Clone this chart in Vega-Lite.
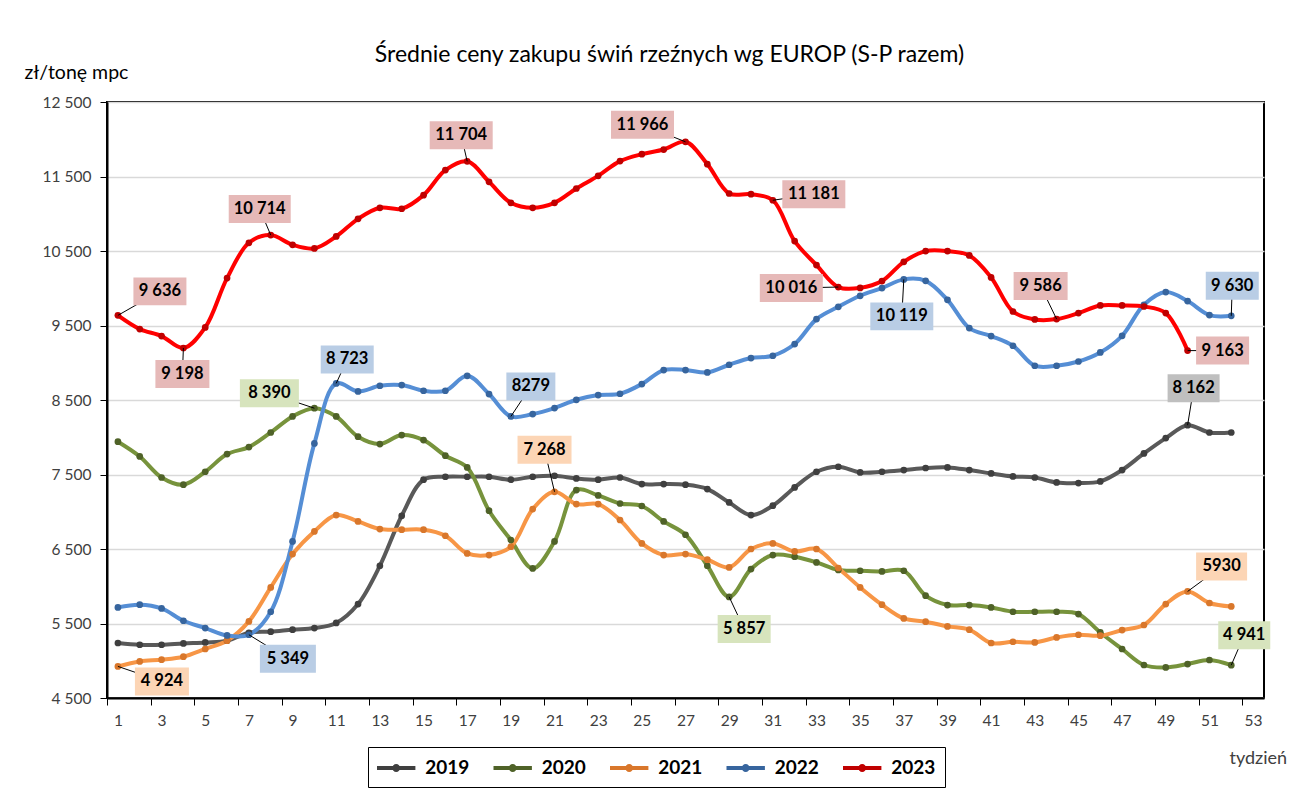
{
  "$schema": "https://vega.github.io/schema/vega-lite/v6.json",
  "width": 1157,
  "height": 596,
  "autosize": {"type": "none"},
  "padding": {"left": 107, "top": 102, "right": 32, "bottom": 101},
  "background": "white",
  "config": {
    "font": "Lato",
    "view": {"stroke": "#000", "strokeWidth": 2},
    "axisY": {"titleFontSize": 19.5, "titleFont": "Lato", "titleFontWeight": "normal"},
    "axisX": {"titleFontSize": 18, "titleFont": "Lato", "titleFontWeight": "normal"}
  },
  "title": {
    "text": "Średnie ceny zakupu świń rzeźnych wg EUROP (S-P razem)",
    "fontSize": 23,
    "fontWeight": "normal",
    "color": "#000",
    "font": "Lato",
    "frame": "group",
    "anchor": "middle",
    "dx": -16,
    "dy": 39,
    "offset": 34
  },
  "datasets": {
    "prices": [
      {"year":"2019","week":1,"value":5238},{"year":"2019","week":2,"value":5215},{"year":"2019","week":3,"value":5215},{"year":"2019","week":4,"value":5233},{"year":"2019","week":5,"value":5246},{"year":"2019","week":6,"value":5269},{"year":"2019","week":7,"value":5376},{"year":"2019","week":8,"value":5390},{"year":"2019","week":9,"value":5417},{"year":"2019","week":10,"value":5439},
      {"year":"2019","week":11,"value":5507},{"year":"2019","week":12,"value":5761},{"year":"2019","week":13,"value":6275},{"year":"2019","week":14,"value":6946},{"year":"2019","week":15,"value":7430},{"year":"2019","week":16,"value":7470},{"year":"2019","week":17,"value":7470},{"year":"2019","week":18,"value":7470},{"year":"2019","week":19,"value":7430},{"year":"2019","week":20,"value":7470},
      {"year":"2019","week":21,"value":7483},{"year":"2019","week":22,"value":7447},{"year":"2019","week":23,"value":7430},{"year":"2019","week":24,"value":7460},{"year":"2019","week":25,"value":7372},{"year":"2019","week":26,"value":7372},{"year":"2019","week":27,"value":7363},{"year":"2019","week":28,"value":7305},{"year":"2019","week":29,"value":7125},{"year":"2019","week":30,"value":6956},
      {"year":"2019","week":31,"value":7081},{"year":"2019","week":32,"value":7326},{"year":"2019","week":33,"value":7537},{"year":"2019","week":34,"value":7604},{"year":"2019","week":35,"value":7528},{"year":"2019","week":36,"value":7537},{"year":"2019","week":37,"value":7560},{"year":"2019","week":38,"value":7587},{"year":"2019","week":39,"value":7595},{"year":"2019","week":40,"value":7560},
      {"year":"2019","week":41,"value":7514},{"year":"2019","week":42,"value":7474},{"year":"2019","week":43,"value":7460},{"year":"2019","week":44,"value":7393},{"year":"2019","week":45,"value":7385},{"year":"2019","week":46,"value":7407},{"year":"2019","week":47,"value":7560},{"year":"2019","week":48,"value":7783},{"year":"2019","week":49,"value":7989},{"year":"2019","week":50,"value":8162},
      {"year":"2019","week":51,"value":8064},{"year":"2019","week":52,"value":8064},

      {"year":"2020","week":1,"value":7940},{"year":"2020","week":2,"value":7742},{"year":"2020","week":3,"value":7460},{"year":"2020","week":4,"value":7363},{"year":"2020","week":5,"value":7537},{"year":"2020","week":6,"value":7774},{"year":"2020","week":7,"value":7868},{"year":"2020","week":8,"value":8064},{"year":"2020","week":9,"value":8279},{"year":"2020","week":10,"value":8390},
      {"year":"2020","week":11,"value":8279},{"year":"2020","week":12,"value":8007},{"year":"2020","week":13,"value":7909},{"year":"2020","week":14,"value":8029},{"year":"2020","week":15,"value":7962},{"year":"2020","week":16,"value":7752},{"year":"2020","week":17,"value":7595},{"year":"2020","week":18,"value":7014},{"year":"2020","week":19,"value":6620},{"year":"2020","week":20,"value":6239},
      {"year":"2020","week":21,"value":6602},{"year":"2020","week":22,"value":7291},{"year":"2020","week":23,"value":7219},{"year":"2020","week":24,"value":7111},{"year":"2020","week":25,"value":7077},{"year":"2020","week":26,"value":6870},{"year":"2020","week":27,"value":6691},{"year":"2020","week":28,"value":6275},{"year":"2020","week":29,"value":5857},{"year":"2020","week":30,"value":6231},
      {"year":"2020","week":31,"value":6419},{"year":"2020","week":32,"value":6396},{"year":"2020","week":33,"value":6320},{"year":"2020","week":34,"value":6218},{"year":"2020","week":35,"value":6208},{"year":"2020","week":36,"value":6199},{"year":"2020","week":37,"value":6208},{"year":"2020","week":38,"value":5873},{"year":"2020","week":39,"value":5748},{"year":"2020","week":40,"value":5748},
      {"year":"2020","week":41,"value":5716},{"year":"2020","week":42,"value":5658},{"year":"2020","week":43,"value":5658},{"year":"2020","week":44,"value":5658},{"year":"2020","week":45,"value":5627},{"year":"2020","week":46,"value":5380},{"year":"2020","week":47,"value":5158},{"year":"2020","week":48,"value":4943},{"year":"2020","week":49,"value":4911},{"year":"2020","week":50,"value":4956},
      {"year":"2020","week":51,"value":5010},{"year":"2020","week":52,"value":4941},

      {"year":"2021","week":1,"value":4924},{"year":"2021","week":2,"value":4991},{"year":"2021","week":3,"value":5014},{"year":"2021","week":4,"value":5054},{"year":"2021","week":5,"value":5158},{"year":"2021","week":6,"value":5269},{"year":"2021","week":7,"value":5528},{"year":"2021","week":8,"value":5984},{"year":"2021","week":9,"value":6432},{"year":"2021","week":10,"value":6736},
      {"year":"2021","week":11,"value":6956},{"year":"2021","week":12,"value":6870},{"year":"2021","week":13,"value":6768},{"year":"2021","week":14,"value":6759},{"year":"2021","week":15,"value":6759},{"year":"2021","week":16,"value":6678},{"year":"2021","week":17,"value":6440},{"year":"2021","week":18,"value":6419},{"year":"2021","week":19,"value":6530},{"year":"2021","week":20,"value":7036},
      {"year":"2021","week":21,"value":7268},{"year":"2021","week":22,"value":7103},{"year":"2021","week":23,"value":7103},{"year":"2021","week":24,"value":6889},{"year":"2021","week":25,"value":6575},{"year":"2021","week":26,"value":6419},{"year":"2021","week":27,"value":6432},{"year":"2021","week":28,"value":6356},{"year":"2021","week":29,"value":6253},{"year":"2021","week":30,"value":6500},
      {"year":"2021","week":31,"value":6575},{"year":"2021","week":32,"value":6467},{"year":"2021","week":33,"value":6500},{"year":"2021","week":34,"value":6245},{"year":"2021","week":35,"value":5984},{"year":"2021","week":36,"value":5752},{"year":"2021","week":37,"value":5568},{"year":"2021","week":38,"value":5524},{"year":"2021","week":39,"value":5461},{"year":"2021","week":40,"value":5417},
      {"year":"2021","week":41,"value":5238},{"year":"2021","week":42,"value":5255},{"year":"2021","week":43,"value":5246},{"year":"2021","week":44,"value":5313},{"year":"2021","week":45,"value":5349},{"year":"2021","week":46,"value":5336},{"year":"2021","week":47,"value":5412},{"year":"2021","week":48,"value":5480},{"year":"2021","week":49,"value":5761},{"year":"2021","week":50,"value":5930},
      {"year":"2021","week":51,"value":5775},{"year":"2021","week":52,"value":5729},

      {"year":"2022","week":1,"value":5716},{"year":"2022","week":2,"value":5752},{"year":"2022","week":3,"value":5702},{"year":"2022","week":4,"value":5537},{"year":"2022","week":5,"value":5439},{"year":"2022","week":6,"value":5340},{"year":"2022","week":7,"value":5349},{"year":"2022","week":8,"value":5658},{"year":"2022","week":9,"value":6602},{"year":"2022","week":10,"value":7917},
      {"year":"2022","week":11,"value":8723},{"year":"2022","week":12,"value":8615},{"year":"2022","week":13,"value":8691},{"year":"2022","week":14,"value":8700},{"year":"2022","week":15,"value":8624},{"year":"2022","week":16,"value":8624},{"year":"2022","week":17,"value":8825},{"year":"2022","week":18,"value":8580},{"year":"2022","week":19,"value":8279},{"year":"2022","week":20,"value":8311},
      {"year":"2022","week":21,"value":8392},{"year":"2022","week":22,"value":8503},{"year":"2022","week":23,"value":8566},{"year":"2022","week":24,"value":8584},{"year":"2022","week":25,"value":8714},{"year":"2022","week":26,"value":8902},{"year":"2022","week":27,"value":8902},{"year":"2022","week":28,"value":8870},{"year":"2022","week":29,"value":8973},{"year":"2022","week":30,"value":9063},
      {"year":"2022","week":31,"value":9094},{"year":"2022","week":32,"value":9251},{"year":"2022","week":33,"value":9586},{"year":"2022","week":34,"value":9751},{"year":"2022","week":35,"value":9899},{"year":"2022","week":36,"value":10002},{"year":"2022","week":37,"value":10119},{"year":"2022","week":38,"value":10100},{"year":"2022","week":39,"value":9845},{"year":"2022","week":40,"value":9465},
      {"year":"2022","week":41,"value":9358},{"year":"2022","week":42,"value":9228},{"year":"2022","week":43,"value":8960},{"year":"2022","week":44,"value":8960},{"year":"2022","week":45,"value":9017},{"year":"2022","week":46,"value":9138},{"year":"2022","week":47,"value":9362},{"year":"2022","week":48,"value":9778},{"year":"2022","week":49,"value":9949},{"year":"2022","week":50,"value":9828},
      {"year":"2022","week":51,"value":9640},{"year":"2022","week":52,"value":9630},

      {"year":"2023","week":1,"value":9636},{"year":"2023","week":2,"value":9452},{"year":"2023","week":3,"value":9358},{"year":"2023","week":4,"value":9198},{"year":"2023","week":5,"value":9474},{"year":"2023","week":6,"value":10136},{"year":"2023","week":7,"value":10610},{"year":"2023","week":8,"value":10714},{"year":"2023","week":9,"value":10583},{"year":"2023","week":10,"value":10534},
      {"year":"2023","week":11,"value":10695},{"year":"2023","week":12,"value":10932},{"year":"2023","week":13,"value":11080},{"year":"2023","week":14,"value":11067},{"year":"2023","week":15,"value":11250},{"year":"2023","week":16,"value":11586},{"year":"2023","week":17,"value":11704},{"year":"2023","week":18,"value":11429},{"year":"2023","week":19,"value":11147},{"year":"2023","week":20,"value":11080},
      {"year":"2023","week":21,"value":11147},{"year":"2023","week":22,"value":11339},{"year":"2023","week":23,"value":11509},{"year":"2023","week":24,"value":11707},{"year":"2023","week":25,"value":11800},{"year":"2023","week":26,"value":11862},{"year":"2023","week":27,"value":11966},{"year":"2023","week":28,"value":11666},{"year":"2023","week":29,"value":11272},{"year":"2023","week":30,"value":11263},
      {"year":"2023","week":31,"value":11181},{"year":"2023","week":32,"value":10633},{"year":"2023","week":33,"value":10311},{"year":"2023","week":34,"value":10016},{"year":"2023","week":35,"value":10005},{"year":"2023","week":36,"value":10096},{"year":"2023","week":37,"value":10355},{"year":"2023","week":38,"value":10499},{"year":"2023","week":39,"value":10499},{"year":"2023","week":40,"value":10440},
      {"year":"2023","week":41,"value":10145},{"year":"2023","week":42,"value":9688},{"year":"2023","week":43,"value":9581},{"year":"2023","week":44,"value":9586},{"year":"2023","week":45,"value":9667},{"year":"2023","week":46,"value":9769},{"year":"2023","week":47,"value":9769},{"year":"2023","week":48,"value":9755},{"year":"2023","week":49,"value":9667},{"year":"2023","week":50,"value":9163}
    ],
    "labels": [
      {"year":"2023","week":1,"value":9636,"text":"9 636"},
      {"year":"2023","week":4,"value":9198,"text":"9 198"},
      {"year":"2023","week":8,"value":10714,"text":"10 714"},
      {"year":"2023","week":17,"value":11704,"text":"11 704"},
      {"year":"2023","week":27,"value":11966,"text":"11 966"},
      {"year":"2023","week":31,"value":11181,"text":"11 181"},
      {"year":"2023","week":34,"value":10016,"text":"10 016"},
      {"year":"2023","week":44,"value":9586,"text":"9 586"},
      {"year":"2023","week":50,"value":9163,"text":"9 163"},
      {"year":"2022","week":52,"value":9630,"text":"9 630"},
      {"year":"2022","week":37,"value":10119,"text":"10 119"},
      {"year":"2022","week":19,"value":8279,"text":"8279"},
      {"year":"2022","week":11,"value":8723,"text":"8 723"},
      {"year":"2022","week":7,"value":5349,"text":"5 349"},
      {"year":"2020","week":10,"value":8390,"text":"8 390"},
      {"year":"2021","week":21,"value":7268,"text":"7 268"},
      {"year":"2020","week":29,"value":5857,"text":"5 857"},
      {"year":"2019","week":50,"value":8162,"text":"8 162"},
      {"year":"2021","week":50,"value":5930,"text":"5930"},
      {"year":"2020","week":52,"value":4941,"text":"4 941"},
      {"year":"2021","week":1,"value":4924,"text":"4 924"}
    ]
  },
  "encoding": {
    "x": {"field": "week", "type": "quantitative", "scale": {"domain": [0.5, 53.5], "nice": false, "zero": false}},
    "y": {"field": "value", "type": "quantitative", "scale": {"domain": [4500, 12500], "nice": false, "zero": false}}
  },
  "layer": [
    {
      "data": {"name": "prices"},
      "mark": {"type": "line", "interpolate": "catmull-rom", "strokeWidth": 4, "strokeCap": "round", "strokeJoin": "round"},
      "encoding": {
        "x": {"field": "week", "type": "quantitative",
          "axis": {
            "values": [0.5,1.5,2.5,3.5,4.5,5.5,6.5,7.5,8.5,9.5,10.5,11.5,12.5,13.5,14.5,15.5,16.5,17.5,18.5,19.5,20.5,21.5,22.5,23.5,24.5,25.5,26.5,27.5,28.5,29.5,30.5,31.5,32.5,33.5,34.5,35.5,36.5,37.5,38.5,39.5,40.5,41.5,42.5,43.5,44.5,45.5,46.5,47.5,48.5,49.5,50.5,51.5,52.5,53.5],
            "labelExpr": "(datum.value + 0.5) % 2 == 1 ? format(datum.value + 0.5, 'd') : ''",
            "labelOffset": 10.9,
            "labelOverlap": false,
            "labelBound": false,
            "labelFlush": false,
            "labelFont": "Lato",
            "labelFontSize": 15.5,
            "labelColor": "#404040",
            "labelPadding": 8,
            "grid": false,
            "tickColor": "#000",
            "tickSize": 7,
            "tickWidth": 1,
            "domainColor": "#000",
            "domainWidth": 2,
            "title": "tydzień",
            "titleFont": "Lato",
            "titleFontSize": 18,
            "titleFontWeight": "normal",
            "titleColor": "#404040",
            "titleAlign": "left",
            "titleBaseline": "middle",
            "titleAnchor": null,
            "titleX": 1122,
            "titleY": 60
          }
        },
        "y": {"field": "value", "type": "quantitative",
          "axis": {
            "values": [4500, 5500, 6500, 7500, 8500, 9500, 10500, 11500, 12500],
            "labelExpr": "replace(format(datum.value, ','), ',', ' ')",
            "labelFont": "Lato",
            "labelFontSize": 15.5,
            "labelColor": "#404040",
            "labelPadding": 9,
            "grid": true,
            "gridColor": "#D9D9D9",
            "gridWidth": 1.3,
            "tickColor": "#000",
            "tickSize": 7,
            "domainColor": "#000",
            "domainWidth": 2,
            "title": "zł/tonę mpc",
            "titleFont": "Lato",
            "titleFontSize": 19.5,
            "titleFontWeight": "normal",
            "titleColor": "#000",
            "titleAngle": 0,
            "titleAlign": "left",
            "titleBaseline": "middle",
            "titleAnchor": null,
            "titleX": -83,
            "titleY": -30
          }
        },
        "color": {
          "field": "year", "type": "nominal",
          "scale": {"domain": ["2019", "2020", "2021", "2022", "2023"], "range": ["#595959", "#77933C", "#F79646", "#558ED5", "#FF0000"]},
          "legend": {
            "orient": "none",
            "legendX": 261,
            "legendY": 645,
            "direction": "horizontal",
            "columns": 5,
            "title": null,
            "padding": 9,
            "strokeColor": "#000",
            "fillColor": "#fff",
            "symbolType": "M-1.6,-0.17L1.6,-0.17L1.6,0.17L-1.6,0.17Z M0.33,0A0.33,0.33,0,1,1,-0.33,0A0.33,0.33,0,1,1,0.33,0Z",
            "symbolSize": 576,
            "symbolOffset": 7.2,
            "symbolStrokeWidth": 0,
            "labelOffset": 17,
            "labelFont": "Lato",
            "labelFontSize": 19,
            "labelFontWeight": "bold",
            "labelColor": "#000",
            "columnPadding": 22.5,
            "encode": {"symbols": {"update": {"fill": {"scale": "color", "field": "value"}, "strokeWidth": {"value": 0}}}}
          }
        }
      }
    },
    {
      "data": {"name": "prices"},
      "mark": {"type": "point", "shape": "circle", "filled": true, "size": 45, "opacity": 1},
      "encoding": {
        "fill": {
          "field": "year", "type": "nominal", "legend": null,
          "scale": {"domain": ["2019", "2020", "2021", "2022", "2023"], "range": ["#3F3F3F", "#4F6228", "#D9772B", "#37659E", "#C00000"]}
        }
      }
    },
    {"data": {"name": "labels"}, "transform": [{"filter": "datum.text == '9 636'"}], "layer": [
      {"mark": {"type": "rule", "color": "#000", "strokeWidth": 1, "x2Offset": 42, "y2Offset": -24}, "encoding": {"x2": {"field": "week"}, "y2": {"field": "value"}}},
      {"mark": {"type": "point", "shape": "M-1,-0.528H1V0.528H-1Z", "size": 2809, "filled": true, "opacity": 1, "fill": "#E6B9B8", "xOffset": 42, "yOffset": -24}},
      {"mark": {"type": "text", "dx": 42, "dy": -24, "font": "Lato", "fontSize": 16.5, "fontWeight": "bold", "color": "#000"}, "encoding": {"text": {"field": "text"}}}
    ]},
    {"data": {"name": "labels"}, "transform": [{"filter": "datum.text == '9 198'"}], "layer": [
      {"mark": {"type": "rule", "color": "#000", "strokeWidth": 1, "x2Offset": -1, "y2Offset": 26}, "encoding": {"x2": {"field": "week"}, "y2": {"field": "value"}}},
      {"mark": {"type": "point", "shape": "M-1,-0.519H1V0.519H-1Z", "size": 2916, "filled": true, "opacity": 1, "fill": "#E6B9B8", "xOffset": -1, "yOffset": 26}},
      {"mark": {"type": "text", "dx": -1, "dy": 26, "font": "Lato", "fontSize": 16.5, "fontWeight": "bold", "color": "#000"}, "encoding": {"text": {"field": "text"}}}
    ]},
    {"data": {"name": "labels"}, "transform": [{"filter": "datum.text == '10 714'"}], "layer": [
      {"mark": {"type": "rule", "color": "#000", "strokeWidth": 1, "x2Offset": -11, "y2Offset": -26}, "encoding": {"x2": {"field": "week"}, "y2": {"field": "value"}}},
      {"mark": {"type": "point", "shape": "M-1,-0.452H1V0.452H-1Z", "size": 3844, "filled": true, "opacity": 1, "fill": "#E6B9B8", "xOffset": -11, "yOffset": -26}},
      {"mark": {"type": "text", "dx": -11, "dy": -26, "font": "Lato", "fontSize": 16.5, "fontWeight": "bold", "color": "#000"}, "encoding": {"text": {"field": "text"}}}
    ]},
    {"data": {"name": "labels"}, "transform": [{"filter": "datum.text == '11 704'"}], "layer": [
      {"mark": {"type": "rule", "color": "#000", "strokeWidth": 1, "x2Offset": -6, "y2Offset": -26}, "encoding": {"x2": {"field": "week"}, "y2": {"field": "value"}}},
      {"mark": {"type": "point", "shape": "M-1,-0.444H1V0.444H-1Z", "size": 3969, "filled": true, "opacity": 1, "fill": "#E6B9B8", "xOffset": -6, "yOffset": -26}},
      {"mark": {"type": "text", "dx": -6, "dy": -26, "font": "Lato", "fontSize": 16.5, "fontWeight": "bold", "color": "#000"}, "encoding": {"text": {"field": "text"}}}
    ]},
    {"data": {"name": "labels"}, "transform": [{"filter": "datum.text == '11 966'"}], "layer": [
      {"mark": {"type": "rule", "color": "#000", "strokeWidth": 1, "x2Offset": -43, "y2Offset": -17}, "encoding": {"x2": {"field": "week"}, "y2": {"field": "value"}}},
      {"mark": {"type": "point", "shape": "M-1,-0.444H1V0.444H-1Z", "size": 3969, "filled": true, "opacity": 1, "fill": "#E6B9B8", "xOffset": -43, "yOffset": -17}},
      {"mark": {"type": "text", "dx": -43, "dy": -17, "font": "Lato", "fontSize": 16.5, "fontWeight": "bold", "color": "#000"}, "encoding": {"text": {"field": "text"}}}
    ]},
    {"data": {"name": "labels"}, "transform": [{"filter": "datum.text == '11 181'"}], "layer": [
      {"mark": {"type": "rule", "color": "#000", "strokeWidth": 1, "x2Offset": 41, "y2Offset": -6}, "encoding": {"x2": {"field": "week"}, "y2": {"field": "value"}}},
      {"mark": {"type": "point", "shape": "M-1,-0.444H1V0.444H-1Z", "size": 3969, "filled": true, "opacity": 1, "fill": "#E6B9B8", "xOffset": 41, "yOffset": -6}},
      {"mark": {"type": "text", "dx": 41, "dy": -6, "font": "Lato", "fontSize": 16.5, "fontWeight": "bold", "color": "#000"}, "encoding": {"text": {"field": "text"}}}
    ]},
    {"data": {"name": "labels"}, "transform": [{"filter": "datum.text == '10 016'"}], "layer": [
      {"mark": {"type": "rule", "color": "#000", "strokeWidth": 1, "x2Offset": -47, "y2Offset": 1}, "encoding": {"x2": {"field": "week"}, "y2": {"field": "value"}}},
      {"mark": {"type": "point", "shape": "M-1,-0.444H1V0.444H-1Z", "size": 3969, "filled": true, "opacity": 1, "fill": "#E6B9B8", "xOffset": -47, "yOffset": 1}},
      {"mark": {"type": "text", "dx": -47, "dy": 1, "font": "Lato", "fontSize": 16.5, "fontWeight": "bold", "color": "#000"}, "encoding": {"text": {"field": "text"}}}
    ]},
    {"data": {"name": "labels"}, "transform": [{"filter": "datum.text == '9 586'"}], "layer": [
      {"mark": {"type": "rule", "color": "#000", "strokeWidth": 1, "x2Offset": -16, "y2Offset": -33}, "encoding": {"x2": {"field": "week"}, "y2": {"field": "value"}}},
      {"mark": {"type": "point", "shape": "M-1,-0.519H1V0.519H-1Z", "size": 2916, "filled": true, "opacity": 1, "fill": "#E6B9B8", "xOffset": -16, "yOffset": -33}},
      {"mark": {"type": "text", "dx": -16, "dy": -33, "font": "Lato", "fontSize": 16.5, "fontWeight": "bold", "color": "#000"}, "encoding": {"text": {"field": "text"}}}
    ]},
    {"data": {"name": "labels"}, "transform": [{"filter": "datum.text == '9 163'"}], "layer": [
      {"mark": {"type": "rule", "color": "#000", "strokeWidth": 1, "x2Offset": 35, "y2Offset": 0}, "encoding": {"x2": {"field": "week"}, "y2": {"field": "value"}}},
      {"mark": {"type": "point", "shape": "M-1,-0.528H1V0.528H-1Z", "size": 2809, "filled": true, "opacity": 1, "fill": "#E6B9B8", "xOffset": 35, "yOffset": 0}},
      {"mark": {"type": "text", "dx": 35, "dy": 0, "font": "Lato", "fontSize": 16.5, "fontWeight": "bold", "color": "#000"}, "encoding": {"text": {"field": "text"}}}
    ]},
    {"data": {"name": "labels"}, "transform": [{"filter": "datum.text == '9 630'"}], "layer": [
      {"mark": {"type": "rule", "color": "#000", "strokeWidth": 1, "x2Offset": 1, "y2Offset": -30}, "encoding": {"x2": {"field": "week"}, "y2": {"field": "value"}}},
      {"mark": {"type": "point", "shape": "M-1,-0.528H1V0.528H-1Z", "size": 2809, "filled": true, "opacity": 1, "fill": "#B9CDE5", "xOffset": 1, "yOffset": -30}},
      {"mark": {"type": "text", "dx": 1, "dy": -30, "font": "Lato", "fontSize": 16.5, "fontWeight": "bold", "color": "#000"}, "encoding": {"text": {"field": "text"}}}
    ]},
    {"data": {"name": "labels"}, "transform": [{"filter": "datum.text == '10 119'"}], "layer": [
      {"mark": {"type": "rule", "color": "#000", "strokeWidth": 1, "x2Offset": -2, "y2Offset": 37}, "encoding": {"x2": {"field": "week"}, "y2": {"field": "value"}}},
      {"mark": {"type": "point", "shape": "M-1,-0.444H1V0.444H-1Z", "size": 3969, "filled": true, "opacity": 1, "fill": "#B9CDE5", "xOffset": -2, "yOffset": 37}},
      {"mark": {"type": "text", "dx": -2, "dy": 37, "font": "Lato", "fontSize": 16.5, "fontWeight": "bold", "color": "#000"}, "encoding": {"text": {"field": "text"}}}
    ]},
    {"data": {"name": "labels"}, "transform": [{"filter": "datum.text == '8279'"}], "layer": [
      {"mark": {"type": "rule", "color": "#000", "strokeWidth": 1, "x2Offset": 20, "y2Offset": -30}, "encoding": {"x2": {"field": "week"}, "y2": {"field": "value"}}},
      {"mark": {"type": "point", "shape": "M-1,-0.571H1V0.571H-1Z", "size": 2401, "filled": true, "opacity": 1, "fill": "#B9CDE5", "xOffset": 20, "yOffset": -30}},
      {"mark": {"type": "text", "dx": 20, "dy": -30, "font": "Lato", "fontSize": 16.5, "fontWeight": "bold", "color": "#000"}, "encoding": {"text": {"field": "text"}}}
    ]},
    {"data": {"name": "labels"}, "transform": [{"filter": "datum.text == '8 723'"}], "layer": [
      {"mark": {"type": "rule", "color": "#000", "strokeWidth": 1, "x2Offset": 11, "y2Offset": -24}, "encoding": {"x2": {"field": "week"}, "y2": {"field": "value"}}},
      {"mark": {"type": "point", "shape": "M-1,-0.528H1V0.528H-1Z", "size": 2809, "filled": true, "opacity": 1, "fill": "#B9CDE5", "xOffset": 11, "yOffset": -24}},
      {"mark": {"type": "text", "dx": 11, "dy": -24, "font": "Lato", "fontSize": 16.5, "fontWeight": "bold", "color": "#000"}, "encoding": {"text": {"field": "text"}}}
    ]},
    {"data": {"name": "labels"}, "transform": [{"filter": "datum.text == '5 349'"}], "layer": [
      {"mark": {"type": "rule", "color": "#000", "strokeWidth": 1, "x2Offset": 39, "y2Offset": 24}, "encoding": {"x2": {"field": "week"}, "y2": {"field": "value"}}},
      {"mark": {"type": "point", "shape": "M-1,-0.5H1V0.5H-1Z", "size": 3136, "filled": true, "opacity": 1, "fill": "#B9CDE5", "xOffset": 39, "yOffset": 24}},
      {"mark": {"type": "text", "dx": 39, "dy": 24, "font": "Lato", "fontSize": 16.5, "fontWeight": "bold", "color": "#000"}, "encoding": {"text": {"field": "text"}}}
    ]},
    {"data": {"name": "labels"}, "transform": [{"filter": "datum.text == '8 390'"}], "layer": [
      {"mark": {"type": "rule", "color": "#000", "strokeWidth": 1, "x2Offset": -45, "y2Offset": -15}, "encoding": {"x2": {"field": "week"}, "y2": {"field": "value"}}},
      {"mark": {"type": "point", "shape": "M-1,-0.475H1V0.475H-1Z", "size": 3481, "filled": true, "opacity": 1, "fill": "#D7E4BD", "xOffset": -45, "yOffset": -15}},
      {"mark": {"type": "text", "dx": -45, "dy": -15, "font": "Lato", "fontSize": 16.5, "fontWeight": "bold", "color": "#000"}, "encoding": {"text": {"field": "text"}}}
    ]},
    {"data": {"name": "labels"}, "transform": [{"filter": "datum.text == '7 268'"}], "layer": [
      {"mark": {"type": "rule", "color": "#000", "strokeWidth": 1, "x2Offset": -10, "y2Offset": -42}, "encoding": {"x2": {"field": "week"}, "y2": {"field": "value"}}},
      {"mark": {"type": "point", "shape": "M-1,-0.519H1V0.519H-1Z", "size": 2916, "filled": true, "opacity": 1, "fill": "#FCD5B5", "xOffset": -10, "yOffset": -42}},
      {"mark": {"type": "text", "dx": -10, "dy": -42, "font": "Lato", "fontSize": 16.5, "fontWeight": "bold", "color": "#000"}, "encoding": {"text": {"field": "text"}}}
    ]},
    {"data": {"name": "labels"}, "transform": [{"filter": "datum.text == '5 857'"}], "layer": [
      {"mark": {"type": "rule", "color": "#000", "strokeWidth": 1, "x2Offset": 15, "y2Offset": 32}, "encoding": {"x2": {"field": "week"}, "y2": {"field": "value"}}},
      {"mark": {"type": "point", "shape": "M-1,-0.528H1V0.528H-1Z", "size": 2809, "filled": true, "opacity": 1, "fill": "#D7E4BD", "xOffset": 15, "yOffset": 32}},
      {"mark": {"type": "text", "dx": 15, "dy": 32, "font": "Lato", "fontSize": 16.5, "fontWeight": "bold", "color": "#000"}, "encoding": {"text": {"field": "text"}}}
    ]},
    {"data": {"name": "labels"}, "transform": [{"filter": "datum.text == '8 162'"}], "layer": [
      {"mark": {"type": "rule", "color": "#000", "strokeWidth": 1, "x2Offset": 6, "y2Offset": -37}, "encoding": {"x2": {"field": "week"}, "y2": {"field": "value"}}},
      {"mark": {"type": "point", "shape": "M-1,-0.538H1V0.538H-1Z", "size": 2704, "filled": true, "opacity": 1, "fill": "#BFBFBF", "xOffset": 6, "yOffset": -37}},
      {"mark": {"type": "text", "dx": 6, "dy": -37, "font": "Lato", "fontSize": 16.5, "fontWeight": "bold", "color": "#000"}, "encoding": {"text": {"field": "text"}}}
    ]},
    {"data": {"name": "labels"}, "transform": [{"filter": "datum.text == '5930'"}], "layer": [
      {"mark": {"type": "rule", "color": "#000", "strokeWidth": 1, "x2Offset": 34, "y2Offset": -25}, "encoding": {"x2": {"field": "week"}, "y2": {"field": "value"}}},
      {"mark": {"type": "point", "shape": "M-1,-0.549H1V0.549H-1Z", "size": 2601, "filled": true, "opacity": 1, "fill": "#FCD5B5", "xOffset": 34, "yOffset": -25}},
      {"mark": {"type": "text", "dx": 34, "dy": -25, "font": "Lato", "fontSize": 16.5, "fontWeight": "bold", "color": "#000"}, "encoding": {"text": {"field": "text"}}}
    ]},
    {"data": {"name": "labels"}, "transform": [{"filter": "datum.text == '4 941'"}], "layer": [
      {"mark": {"type": "rule", "color": "#000", "strokeWidth": 1, "x2Offset": 13, "y2Offset": -30}, "encoding": {"x2": {"field": "week"}, "y2": {"field": "value"}}},
      {"mark": {"type": "point", "shape": "M-1,-0.538H1V0.538H-1Z", "size": 2704, "filled": true, "opacity": 1, "fill": "#D7E4BD", "xOffset": 13, "yOffset": -30}},
      {"mark": {"type": "text", "dx": 13, "dy": -30, "font": "Lato", "fontSize": 16.5, "fontWeight": "bold", "color": "#000"}, "encoding": {"text": {"field": "text"}}}
    ]},
    {"data": {"name": "labels"}, "transform": [{"filter": "datum.text == '4 924'"}], "layer": [
      {"mark": {"type": "rule", "color": "#000", "strokeWidth": 1, "x2Offset": 44, "y2Offset": 15}, "encoding": {"x2": {"field": "week"}, "y2": {"field": "value"}}},
      {"mark": {"type": "point", "shape": "M-1,-0.519H1V0.519H-1Z", "size": 2916, "filled": true, "opacity": 1, "fill": "#FCD5B5", "xOffset": 44, "yOffset": 15}},
      {"mark": {"type": "text", "dx": 44, "dy": 15, "font": "Lato", "fontSize": 16.5, "fontWeight": "bold", "color": "#000"}, "encoding": {"text": {"field": "text"}}}
    ]}
  ]
}
